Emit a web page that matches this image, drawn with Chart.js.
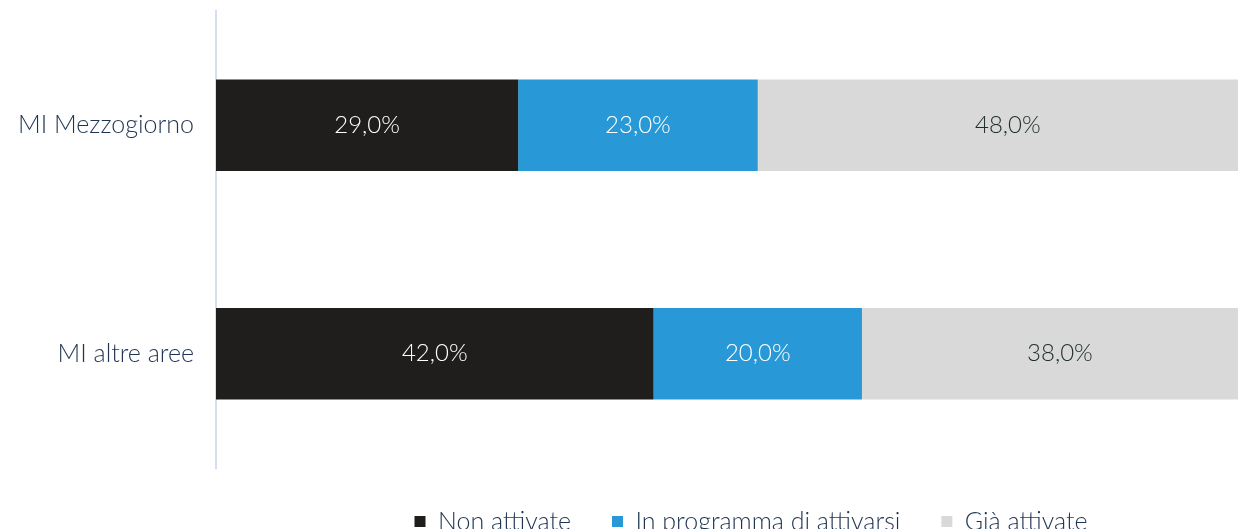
<!DOCTYPE html>
<html>
<head>
<meta charset="utf-8">
<script src="https://cdn.jsdelivr.net/npm/chart.js@4"></script>
<style>
  html, body { margin: 0; padding: 0; background: #ffffff; overflow: hidden; width: 1238px; height: 529px; }
  #wrap { position: absolute; left: 0; top: 0; width: 1286px; height: 544px; }
</style>
</head>
<body>
<div id="wrap"><canvas id="c"></canvas></div>
<script>
const categories = ["MI Mezzogiorno", "MI altre aree"];
const seriesNames = ["Non attivate", "In programma di attivarsi", "Già attivate"];
const nonAttivate = [29.0, 42.0];
const inProgramma = [23.0, 20.0];
const giaAttivate = [48.0, 38.0];

const FONT = "Lato, 'Open Sans', sans-serif";
const WEIGHT = 300;

const valueLabels = {
  id: 'valueLabels',
  afterDatasetsDraw(chart) {
    const ctx = chart.ctx;
    ctx.save();
    ctx.font = WEIGHT + " 24px " + FONT;
    ctx.textAlign = 'center';
    ctx.textBaseline = 'middle';
    chart.data.datasets.forEach((ds, i) => {
      const meta = chart.getDatasetMeta(i);
      meta.data.forEach((el, j) => {
        const v = ds.data[j];
        const x = (el.x + el.base) / 2;
        ctx.fillStyle = i === 2 ? '#1f2d29' : '#ffffff';
        ctx.fillText(v.toFixed(1).replace('.', ',') + '%', x, el.y);
      });
    });
    ctx.restore();
  }
};

new Chart(document.getElementById('c'), {
  type: 'bar',
  data: {
    labels: categories,
    datasets: [
      { label: seriesNames[0], data: nonAttivate, backgroundColor: '#1f1e1c' },
      { label: seriesNames[1], data: inProgramma, backgroundColor: '#2899d6' },
      { label: seriesNames[2], data: giaAttivate, backgroundColor: '#d9d9d9' }
    ]
  },
  options: {
    indexAxis: 'y',
    responsive: true,
    maintainAspectRatio: false,
    animation: false,
    layout: { padding: { top: 11, left: 0, right: 0, bottom: 0 } },
    datasets: { bar: { categoryPercentage: 1.0, barPercentage: 0.4, borderWidth: 0, clip: 0 } },
    scales: {
      x: {
        stacked: true, min: 0, max: 102.7, display: false
      },
      y: {
        stacked: true,
        grid: { display: false, drawTicks: false },
        border: { display: true, color: '#d3deee', width: 2 },
        ticks: { color: '#1f3452', font: { family: FONT, size: 25, weight: WEIGHT }, padding: 22 },
        afterFit(scale) { scale.width = 216; scale.paddingTop = 0; scale.paddingBottom = 0; }
      }
    },
    plugins: {
      legend: {
        position: 'bottom',
        fullSize: false,
        labels: {
          boxWidth: 11, boxHeight: 11, padding: 41,
          color: '#1f3452', font: { family: FONT, size: 25, weight: WEIGHT }
        }
      },
      tooltip: { enabled: false }
    }
  },
  plugins: [valueLabels]
});
</script>
</body>
</html>
